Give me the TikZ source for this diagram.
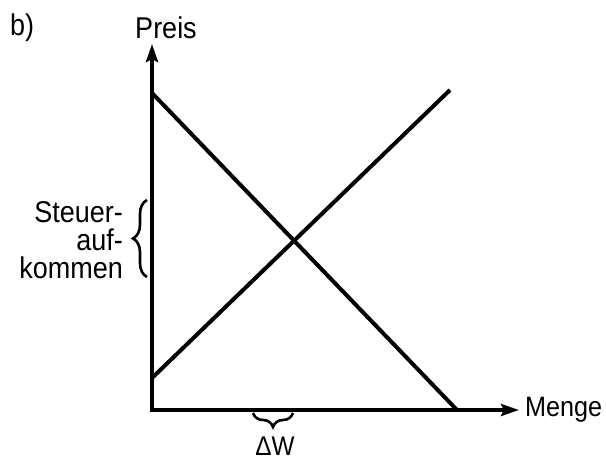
\documentclass[tikz,border=0pt]{standalone}
\usepackage{fontspec}
\setmainfont{Liberation Sans}[FakeStretch=0.9]
\usetikzlibrary{arrows.meta,decorations.pathreplacing}
\begin{document}
\begin{tikzpicture}[x=1pt,y=-1pt,
  axis/.style={line width=4pt,-{Stealth[length=18pt,width=12pt,inset=3pt]}},
  curve/.style={line width=4pt},
  lbl/.style={font=\fontsize{30}{28}\selectfont,inner sep=0pt},
  bracedec/.style={line width=2.6pt,decorate,decoration={brace,amplitude=14pt}}]
\useasboundingbox (0,0) rectangle (606,464);
\coordinate (O) at (152,410);
\coordinate (ytip) at (152,44);
\coordinate (xtip) at (519,410);
\coordinate (d1) at (152,93);
\coordinate (d2) at (457,410);
\coordinate (s1) at (152,378);
\coordinate (s2) at (450,90);
\coordinate (b1) at (147,277);
\coordinate (b2) at (147,200);
\coordinate (c1) at (253,413);
\coordinate (c2) at (293,413);
\draw[curve] (d1) -- (d2);
\draw[curve] (s1) -- (s2);
\draw[axis] (O) -- (ytip);
\draw[axis] ([xshift=-2pt]O) -- (xtip);
\draw[bracedec] (b1) -- (b2);
\draw[bracedec] (c2) -- (c1);
\node[lbl,anchor=west] (b) at (10,28) {b)};
\node[lbl] (preis) at (166,28) {Preis};
\node[lbl,anchor=west,font=\fontsize{28}{28}\selectfont] (menge) at (525,410) {Menge};
\node[lbl,anchor=east,align=right] (steuer) at (123,240) {Steuer-\\auf-\\kommen};
\node[lbl,font=\fontsize{27}{26}\selectfont] (dw) at (275,446) {ΔW};
\end{tikzpicture}
\end{document}
